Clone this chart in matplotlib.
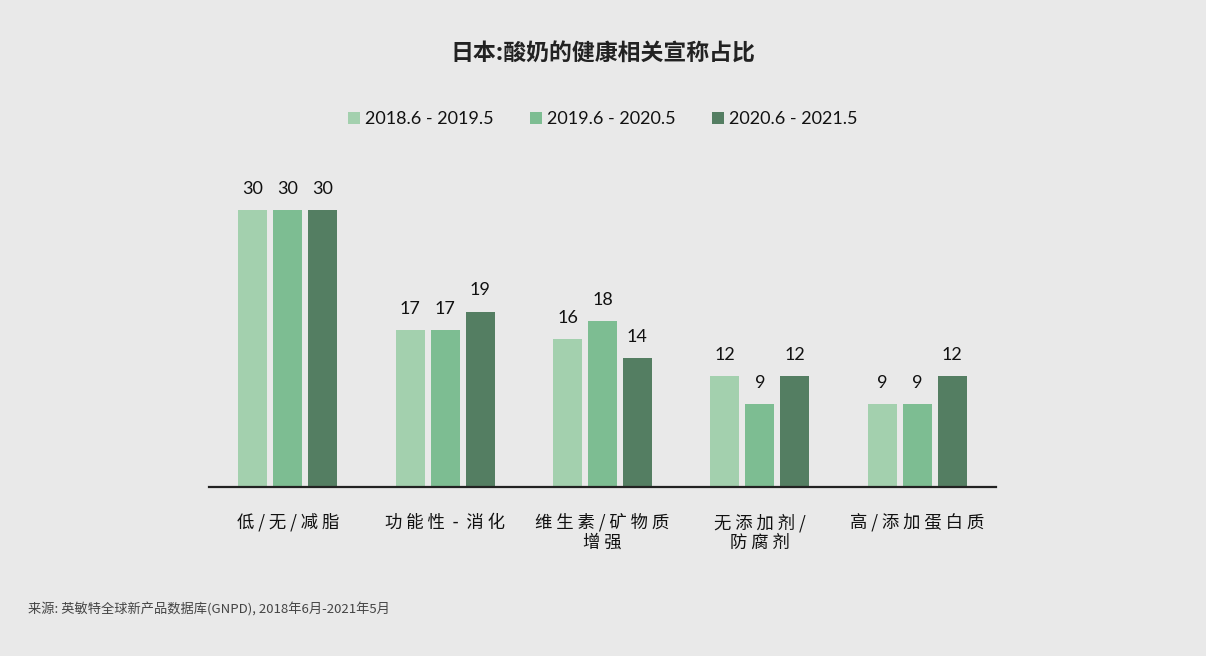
import matplotlib
matplotlib.use("Agg")
import matplotlib.pyplot as plt
import numpy as np

categories = ["低 / 无 / 减 脂", "功 能 性  -  消 化", "维 生 素 / 矿 物 质\n增 强", "无 添 加 剂 /\n防 腐 剂", "高 / 添 加 蛋 白 质"]
series_names = ["2018.6 - 2019.5", "2019.6 - 2020.5", "2020.6 - 2021.5"]
values_2019 = [30, 17, 16, 12, 9]
values_2020 = [30, 17, 18, 9, 9]
values_2021 = [30, 19, 14, 12, 12]
colors = ["#a3d0ae", "#7dbd92", "#547e62"]
title = "日本:酸奶的健康相关宣称占比"
source = "来源: 英敏特全球新产品数据库(GNPD), 2018年6月-2021年5月"

BG = "#e9e9e9"
CJK = ["Noto Sans CJK SC", "DejaVu Sans"]
NUM = ["Lato", "DejaVu Sans"]
plt.rcParams['font.family'] = CJK

fig = plt.figure(figsize=(12.06, 6.56), dpi=100, facecolor=BG)
ax = fig.add_axes([209/1206, (656-487)/656, (996-209)/1206, (487-150)/656])
ax.set_facecolor(BG)

x = np.arange(len(categories))
width = 0.184
step = 0.222
all_series = [values_2019, values_2020, values_2021]
for i, (vals, c, name) in enumerate(zip(all_series, colors, series_names)):
    bars = ax.bar(x + (i - 1) * step, vals, width, color=c, label=name, zorder=2)
    for b, v in zip(bars, vals):
        ax.annotate(str(v), (b.get_x() + b.get_width() / 2, v), xytext=(0, 9.5),
                    textcoords="offset points", ha="center", va="bottom",
                    fontsize=13, family=NUM, color="#111111")

ax.set_xlim(-0.5, len(categories) - 0.5)
ax.set_ylim(0, (487-150)/9.23)
for s in ["top", "right", "left"]:
    ax.spines[s].set_visible(False)
ax.spines["bottom"].set_linewidth(1.6)
ax.spines["bottom"].set_color("#222222")
ax.set_yticks([])
ax.set_xticks(x)
ax.set_xticklabels(categories, fontsize=12.5, color="#111111", linespacing=1.15, va="top")
ax.tick_params(axis="x", length=0, pad=19)

leg = ax.legend(loc="upper center", bbox_to_anchor=(0.5, (487-95)/(487-150)), ncol=3,
                frameon=False, handlelength=0.7, handleheight=0.7, handletextpad=0.25,
                columnspacing=2.0, prop={"family": NUM, "size": 13})
for t in leg.get_texts():
    t.set_color("#111111")

fig.text(0.5, 1 - 54/656, title, ha="center", va="center", fontsize=16.5,
         fontweight="bold", color="#222222")
fig.text(28/1206, 1 - 609/656, source, ha="left", va="center", fontsize=9.5,
         color="#444444")

fig.savefig("out.png", dpi=100, facecolor=BG)
